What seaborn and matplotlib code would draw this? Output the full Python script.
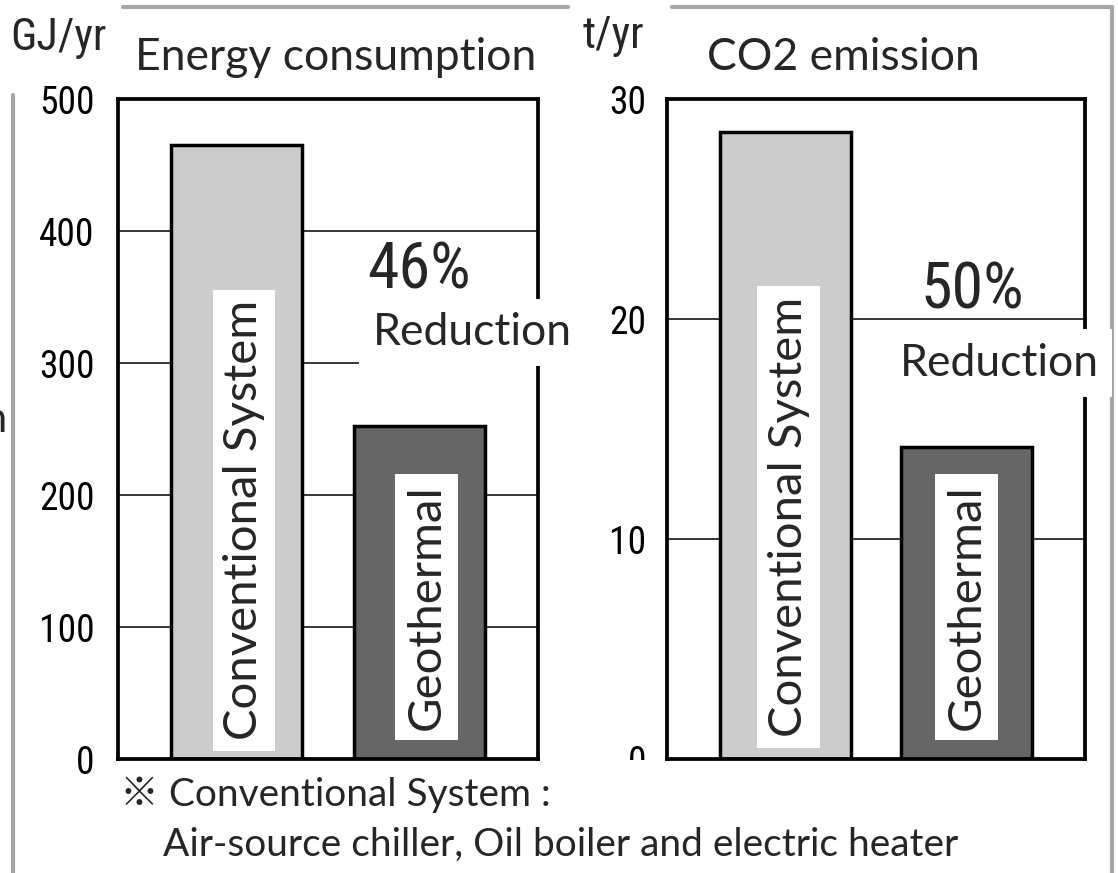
import matplotlib
matplotlib.use("Agg")
import matplotlib.pyplot as plt
import seaborn as sns
from matplotlib import font_manager
from matplotlib.lines import Line2D
from matplotlib.patches import Rectangle

# ---- data ----
categories = ["Conventional System", "Geothermal"]
energy_values = [465, 252]
co2_values = [28.5, 14.2]
energy_ticks = [0, 100, 200, 300, 400, 500]
co2_ticks = [0, 10, 20, 30]
bar_colors = ["#cccccc", "#666666"]
energy_reduction = "46%"
co2_reduction = "50%"
footnote_1 = "※ Conventional System :"
footnote_2 = "Air-source chiller, Oil boiler and electric heater"

sns.set_theme(style="white")
names = {f.name for f in font_manager.fontManager.ttflist}
narrow = next((n for n in ["Liberation Sans Narrow", "DejaVu Sans Condensed", "Roboto Condensed", "Roboto"] if n in names), "DejaVu Sans")
main_family = ["Lato", "Noto Sans CJK JP", "DejaVu Sans"]
plt.rcParams["font.family"] = main_family

fig = plt.figure(figsize=(11.18, 8.73), dpi=100)
fig.patch.set_facecolor("white")

ax1 = fig.add_axes([118 / 1118, 1 - 759 / 873, 420 / 1118, 660 / 873])
ax2 = fig.add_axes([667 / 1118, 1 - 759 / 873, 418 / 1118, 660 / 873])


def draw_panel(ax, values, ticks, ymax, pad):
    ax.set_facecolor("none")
    for t in ticks[1:-1]:
        ax.axhline(t, color="black", lw=1.1, zorder=0.5)
    sns.barplot(x=categories, y=values, hue=categories, palette=bar_colors,
                legend=False, ax=ax, width=0.72, edgecolor="black",
                linewidth=2.5, saturation=1, zorder=2)
    ax.set_xlim(-0.65, 1.65)
    ax.set_ylim(0, ymax)
    ax.set_yticks(ticks)
    ax.set_yticklabels([str(t) for t in ticks], fontfamily=narrow, fontsize=27)
    ax.tick_params(axis="y", length=0, pad=pad, colors="black")
    ax.set_xticks([])
    ax.set_xlabel("")
    ax.set_ylabel("")
    for s in ax.spines.values():
        s.set_visible(True)
        s.set_color("black")
        s.set_linewidth(2.7)
    ax.grid(False)


draw_panel(ax1, energy_values, energy_ticks, 500, 17)
draw_panel(ax2, co2_values, co2_ticks, 30, 15)

inbox = dict(boxstyle="square,pad=0.22", facecolor="white", edgecolor="none")
box = dict(boxstyle="square,pad=0.3", facecolor="white", edgecolor="none")

# labels inside bars
ax1.text(0.04, 181, categories[0], rotation=90, ha="center", va="center",
         fontsize=34, bbox=inbox, zorder=5)
ax1.text(1.04, 115, categories[1], rotation=90, ha="center", va="center",
         fontsize=34, bbox=inbox, zorder=5)
ax2.text(0.02, 11.0, categories[0], rotation=90, ha="center", va="center",
         fontsize=34, bbox=inbox, zorder=5)
ax2.text(1.0, 6.9, categories[1], rotation=90, ha="center", va="center",
         fontsize=34, bbox=inbox, zorder=5)

# reduction annotations
ax1.text(1.0, 370, energy_reduction, ha="center", va="center", fontsize=46,
         fontfamily=narrow, zorder=5)
ax1.text(1.29, 323, "Reduction", ha="center", va="center", fontsize=32,
         bbox=box, zorder=6, clip_on=False)
ax2.text(1.03, 21.3, co2_reduction, ha="center", va="center", fontsize=46,
         fontfamily=narrow, zorder=5)
ax2.text(1.18, 18.0, "Reduction", ha="center", va="center", fontsize=32,
         bbox=box, zorder=6, clip_on=False)

# titles and units
fig.text(135 / 1118, 1 - 58 / 873, "Energy consumption", ha="left", va="center", fontsize=32)
fig.text(707 / 1118, 1 - 58 / 873, "CO2 emission", ha="left", va="center", fontsize=32)
fig.text(10 / 1118, 1 - 38 / 873, "GJ/yr", ha="left", va="center", fontsize=32, fontfamily=narrow)
fig.text(583 / 1118, 1 - 36 / 873, "t/yr", ha="left", va="center", fontsize=32, fontfamily=narrow)

# footnote
fig.text(120 / 1118, 1 - 795 / 873, footnote_1, ha="left", va="center", fontsize=28)
fig.text(163 / 1118, 1 - 845 / 873, footnote_2, ha="left", va="center", fontsize=28)

# cut-off letter at the left edge
fig.text(0.006, 1 - 420 / 873, "n", ha="right", va="center", fontsize=30)

# decorative grey frame pieces
grey = "#a6a6a6"
for xs, ys in [((123, 568), (7, 7)), ((672, 1112), (7, 7)),
               ((1112, 1112), (7, 873)), ((13, 13), (95, 873))]:
    fig.add_artist(Line2D([x / 1118 for x in xs], [1 - y / 873 for y in ys],
                          color=grey, lw=3, zorder=-1, transform=fig.transFigure))

# white mask hiding lower half of the right "0" label
fig.add_artist(Rectangle((590 / 1118, 1 - 800 / 873), 70 / 1118, 40 / 873,
                         facecolor="white", edgecolor="none", zorder=10,
                         transform=fig.transFigure))

fig.savefig("out.png", dpi=100, facecolor="white")
